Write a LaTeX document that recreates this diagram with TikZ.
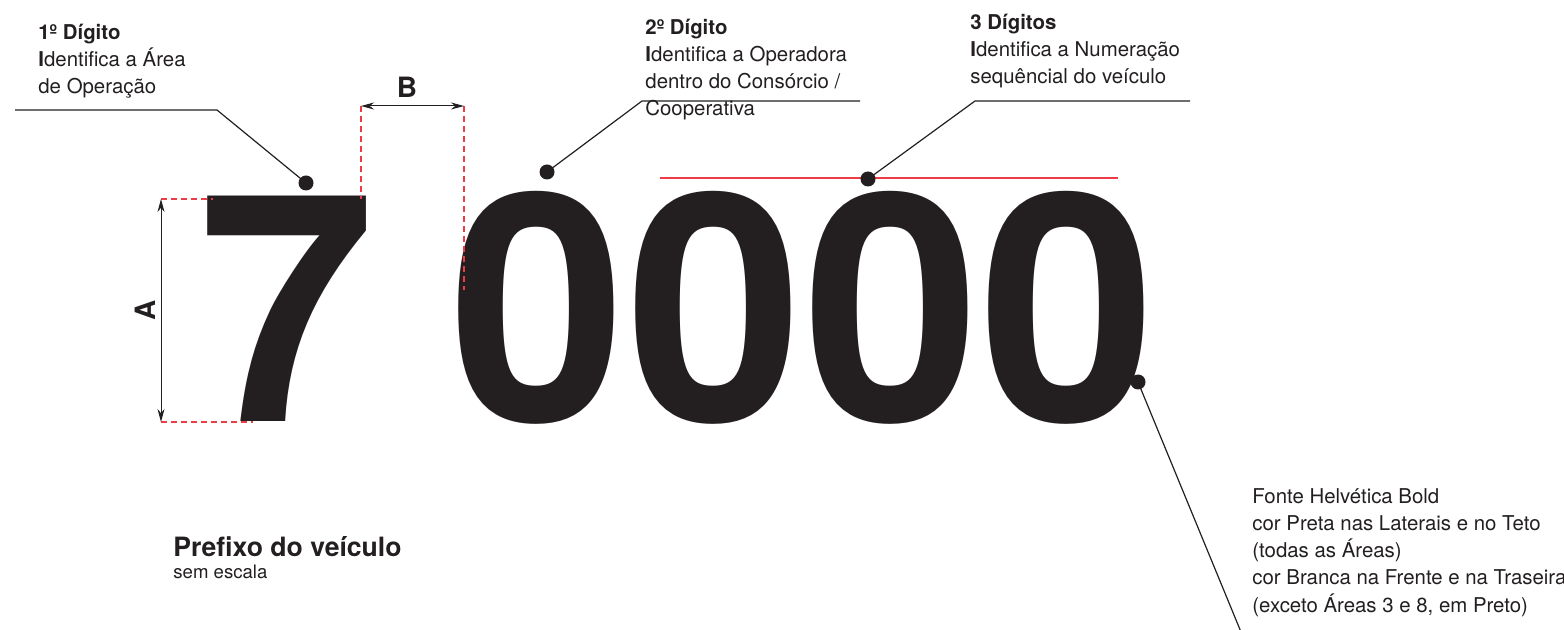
\documentclass[tikz,border=0pt]{standalone}
\usepackage{fontspec}
\setmainfont{TeX Gyre Heros}
\usetikzlibrary{arrows.meta}
\definecolor{ink}{RGB}{35,31,32}
\definecolor{cota}{RGB}{238,60,70}
\tikzset{
  leader/.style={draw=ink, line width=0.6pt},
  dot/.style={circle, fill=ink, inner sep=0pt, minimum size=7.5pt},
  cotadash/.style={draw=cota, dash pattern=on 3pt off 2pt, line width=0.6pt},
  cotaarrow/.style={draw=ink, line width=0.5pt, {Stealth[length=6.5pt,width=3.5pt]}-{Stealth[length=6.5pt,width=3.5pt]}},
  digit/.style={font=\fontsize{159}{159}\selectfont\bfseries, text=ink, inner sep=0pt, anchor=base},
  note/.style={font=\fontsize{10.2}{13.6}\selectfont, text=ink, align=left, inner sep=0pt, anchor=base west},
  cotalabel/.style={font=\fontsize{14}{14}\selectfont\bfseries, text=ink, inner sep=0pt},
}

\begin{document}
\begin{tikzpicture}[x=0.5pt, y=-0.5pt]
		%%%%% START %%%%%
		\useasboundingbox (0, 0) rectangle (1564, 630);
		
		% prefixo
		\node[digit] (d7) at (287, 422) {7};
		\node[digit] (d0a) at (538, 422) {0};
		\node[digit] (d0b) at (715, 422) {0};
		\node[digit] (d0c) at (891.5, 422) {0};
		\node[digit] (d0d) at (1068, 422) {0};
		
		% cota A
		\coordinate (a1) at (161, 199);
		\coordinate (a2) at (161, 422);
		\draw[cotadash] (a1) -- (213, 199);
		\draw[cotadash] (a2) -- (253, 422);
		\draw[cotaarrow] (a1) -- (a2);
		\node[cotalabel, rotate=90] (la) at (145, 310) {A};
		
		% cota B
		\coordinate (b1) at (361, 106);
		\coordinate (b2) at (464, 106);
		\draw[cotadash] (b1) -- (361, 199);
		\draw[cotadash] (b2) -- (464, 290);
		\draw[cotaarrow] (b1) -- (b2);
		\node[cotalabel] (lb) at (407, 87) {B};
		
		% linha de topo
		\draw[draw=cota, line width=0.7pt] (660, 178) -- (1118, 178);
		
		% chamadas
		\node[dot] (p1) at (306, 183) {};
		\node[dot] (p2) at (547, 172) {};
		\node[dot] (p3) at (868, 179) {};
		\node[dot] (p4) at (1138, 382) {};
		
		\coordinate (k1) at (217, 110);
		\coordinate (k2) at (642, 101);
		\coordinate (k3) at (975, 101);
		\draw[leader] (15, 110) -- (k1) -- (p1.center);
		\draw[leader] (p2.center) -- (k2) -- (860, 101);
		\draw[leader] (p3.center) -- (k3) -- (1190, 101);
		\draw[leader] (p4.center) -- (1241, 632);
		
		% textos (base = ultima linha)
		\node[note] (t1) at (38, 94) {\textbf{1º Dígito}\\\textbf{I}dentifica a Área\\de Operação};
		\node[note] (t2) at (645, 116) {\textbf{2º Dígito}\\\textbf{I}dentifica a Operadora\\dentro do Consórcio /\\Cooperativa};
		\node[note] (t3) at (970, 84) {\textbf{3 Dígitos}\\\textbf{I}dentifica a Numeração\\sequêncial do veículo};
		\node[note] (t4) at (1252, 612) {Fonte Helvética Bold\\cor Preta nas Laterais e no Teto\\(todas as Áreas)\\cor Branca na Frente e na Traseira\\(exceto Áreas 3 e 8, em Preto)};
		
		\node[font=\fontsize{13.3}{16}\selectfont\bfseries, text=ink, inner sep=0pt, anchor=base west] (tp) at (173, 556) {Prefixo do veículo};
		\node[font=\fontsize{9.3}{11}\selectfont, text=ink, inner sep=0pt, anchor=base west] (ts) at (173, 578) {sem escala};
		%%%%% END %%%%%
\end{tikzpicture}
\end{document}
